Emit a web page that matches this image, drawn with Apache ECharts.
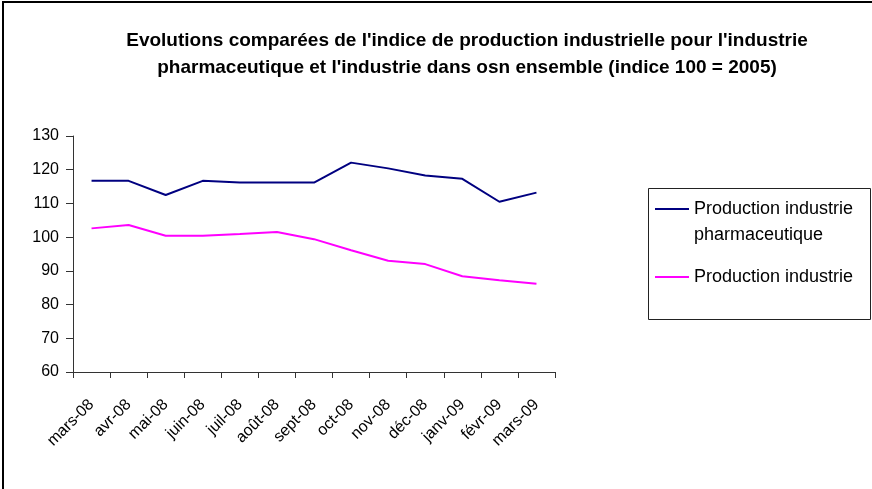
<!DOCTYPE html>
<html>
<head>
<meta charset="utf-8">
<script src="https://cdn.jsdelivr.net/npm/echarts@6/dist/echarts.min.js"></script>
<style>
html,body{margin:0;padding:0;background:#fff;}
#c{width:872px;height:489px;}
</style>
</head>
<body>
<div id="c"></div>
<script>
var categories = ['mars-08','avr-08','mai-08','juin-08','juil-08','août-08','sept-08','oct-08','nov-08','déc-08','janv-09','févr-09','mars-09'];
var pharmaValues = [116.7,116.7,112.5,116.7,116.2,116.2,116.2,122.1,120.4,118.3,117.3,110.5,113.2];
var industrieValues = [102.6,103.6,100.4,100.4,100.9,101.5,99.4,96.1,93.0,92.0,88.4,87.2,86.2];
var yTicks = [60,70,80,90,100,110,120,130];
var seriesNames = ['Production industrie pharmaceutique','Production industrie'];
var titleText = "Evolutions comparées de l'indice de production industrielle pour l'industrie\npharmaceutique et l'industrie dans osn ensemble (indice 100 = 2005)";

var chart = echarts.init(document.getElementById('c'), null, {renderer:'canvas'});
var font = 'Liberation Sans, Arial, sans-serif';
chart.setOption({
  animation:false,
  backgroundColor:'#fff',
  graphic:[
    {type:'rect',shape:{x:3,y:2,width:900,height:600},style:{fill:'none',stroke:'#000',lineWidth:2},silent:true},
    {type:'rect',shape:{x:648.5,y:188.5,width:222,height:131},style:{fill:'none',stroke:'#222',lineWidth:1},silent:true},
    {type:'text',x:467,y:27,silent:true,style:{text:titleText,align:'center',verticalAlign:'top',font:'bold 19px Liberation Sans, Arial, sans-serif',lineHeight:27,fill:'#000'}}
  ],
  legend:{
    orient:'vertical',
    left:655,
    top:170,
    padding:0,
    itemGap:16,
    itemWidth:34,
    itemHeight:2,
    icon:'rect',
    data:seriesNames,
    formatter:function(n){ return n===seriesNames[0] ? '\nProduction industrie\npharmaceutique' : n; },
    textStyle:{fontFamily:font,fontSize:18,color:'#000',lineHeight:26}
  },
  grid:{left:73,right:317,top:136,bottom:117,containLabel:false},
  xAxis:{
    type:'category',
    data:categories,
    boundaryGap:true,
    axisLine:{lineStyle:{color:'#333',width:1}},
    axisTick:{show:true,length:6,lineStyle:{color:'#333'}},
    axisLabel:{interval:0,rotate:45,margin:30,fontFamily:font,fontSize:16,color:'#000'}
  },
  yAxis:{
    type:'value',
    min:yTicks[0],
    max:yTicks[yTicks.length-1],
    interval:10,
    splitLine:{show:false},
    axisLine:{show:true,lineStyle:{color:'#333',width:1}},
    axisTick:{show:true,length:7,lineStyle:{color:'#333'}},
    axisLabel:{margin:14,fontFamily:font,fontSize:16,color:'#000'}
  },
  series:[
    {name:seriesNames[0],type:'line',data:pharmaValues,symbol:'none',lineStyle:{color:'#000080',width:2},itemStyle:{color:'#000080'}},
    {name:seriesNames[1],type:'line',data:industrieValues,symbol:'none',lineStyle:{color:'#FF00FF',width:2},itemStyle:{color:'#FF00FF'}}
  ]
});
</script>
</body>
</html>
